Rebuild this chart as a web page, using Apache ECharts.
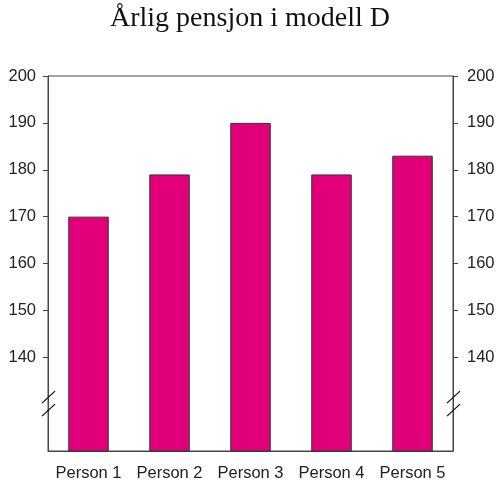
<!DOCTYPE html>
<html>
<head>
<meta charset="utf-8">
<script src="https://cdn.jsdelivr.net/npm/echarts@6/dist/echarts.min.js"></script>
<style>
  html, body { margin: 0; padding: 0; background: #fff; }
  #chart { width: 500px; height: 492px; }
</style>
</head>
<body>
<div id="chart"></div>
<script>
var categories = ['Person 1', 'Person 2', 'Person 3', 'Person 4', 'Person 5'];
var pension = [170, 179, 190, 179, 183];
var tickValues = [140, 150, 160, 170, 180, 190, 200];
var breakValue = 130; // where the axis break marks sit

var chart = echarts.init(document.getElementById('chart'));

var yAxisBase = {
    type: 'value',
    min: 120,
    max: 200,
    interval: 10,
    axisLine: { show: true, lineStyle: { color: '#444', width: 1 } },
    axisTick: { show: true, length: 5, customValues: tickValues, lineStyle: { color: '#444' } },
    axisLabel: {
        customValues: tickValues,
        color: '#222',
        fontFamily: 'Liberation Sans',
        fontSize: 16.5,
        margin: 12
    },
    splitLine: { show: false }
};

chart.setOption({
    animation: false,
    title: {
        text: 'Årlig pensjon i modell D',
        left: 'center',
        top: 0,
        textStyle: {
            fontFamily: 'Liberation Serif',
            fontWeight: 'normal',
            fontSize: 28,
            color: '#111'
        }
    },
    grid: {
        left: 48,
        right: 47,
        top: 76,
        bottom: 41,
        show: true,
        borderColor: '#444',
        borderWidth: 1
    },
    xAxis: {
        type: 'category',
        data: categories,
        axisLine: { lineStyle: { color: '#444' } },
        axisTick: { length: 5, lineStyle: { color: '#444' } },
        axisLabel: {
            color: '#222',
            fontFamily: 'Liberation Sans',
            fontSize: 16.5,
            margin: 14,
            interval: 0
        }
    },
    yAxis: [
        Object.assign({}, yAxisBase, { position: 'left' }),
        Object.assign({}, yAxisBase, { position: 'right', axisLabel: Object.assign({}, yAxisBase.axisLabel, { margin: 14 }) })
    ],
    series: [{
        type: 'bar',
        data: pension,
        barWidth: '50%',
        itemStyle: {
            color: '#e2007a',
            borderColor: '#333',
            borderWidth: 1
        }
    }]
});

// axis break marks (double slash) on both value axes
function breakMarks() {
    var y = chart.convertToPixel({ yAxisIndex: 0 }, breakValue);
    var xl = chart.convertToPixel({ xAxisIndex: 0 }, categories[0]) - 40.5;
    var xr = chart.convertToPixel({ xAxisIndex: 0 }, categories[categories.length - 1]) + 40.5;
    var els = [];
    [xl, xr].forEach(function (x) {
        [-7, 6].forEach(function (off) {
            els.push({
                type: 'line',
                shape: { x1: x - 6, y1: y + off + 6, x2: x + 7, y2: y + off - 6 },
                style: { stroke: '#111', lineWidth: 1.3 },
                z: 100
            });
        });
    });
    chart.setOption({ graphic: els });
}
breakMarks();
</script>
</body>
</html>
